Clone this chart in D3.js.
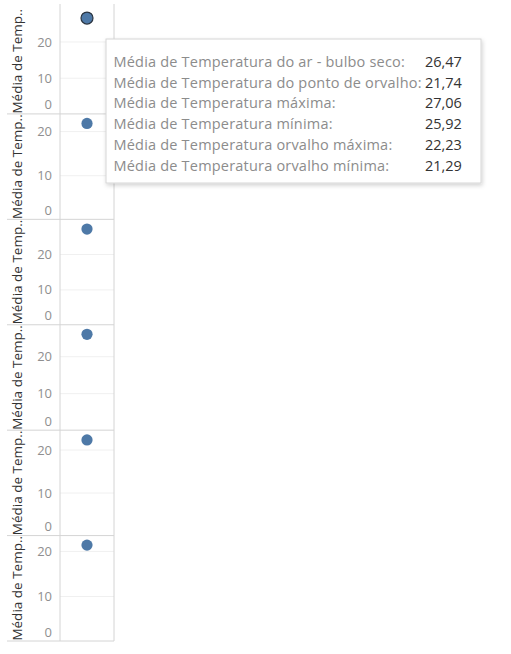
<!DOCTYPE html>
<html>
<head>
<meta charset="utf-8">
<script src="https://cdn.jsdelivr.net/npm/d3@7"></script>
<style>
  body { margin: 0; background: #fff; }
  text { font-family: "Open Sans", sans-serif; }
</style>
</head>
<body>
<div id="chart"></div>
<script>
var medidas = [
    "Média de Temperatura do ar - bulbo seco",
    "Média de Temperatura do ponto de orvalho",
    "Média de Temperatura máxima",
    "Média de Temperatura mínima",
    "Média de Temperatura orvalho máxima",
    "Média de Temperatura orvalho mínima"
]
var valores = [26.47, 21.74, 27.06, 25.92, 22.23, 21.29]
var eixoMax = [29.1, 23.9, 29.8, 28.5, 24.5, 23.4]
var tickValores = [0, 10, 20]
var tituloEixo = "Média de Temp.."
var selecionado = 0   // ponto com o tooltip aberto

var width = 511, height = 654
var axisX = 60, paneR = 114, leftX = 7
var top0 = 8.5, bottom0 = 641

var svg = d3.select("#chart")
    .append("svg")
    .attr("width", width)
    .attr("height", height)

var fmt = d3.formatLocale({ decimal: ",", thousands: ".", grouping: [3], currency: ["", ""] }).format(".2f")

// faixas das linhas
var row = d3.scaleBand()
    .domain(d3.range(medidas.length))
    .range([top0, bottom0])
    .padding(0)

var x = d3.scalePoint()
    .domain(["tudo"])
    .range([axisX, paneR])
    .padding(0.5)

var g = svg.append("g")

medidas.forEach(function (m, i) {
    var t = row(i), b = t + row.bandwidth()
    var y = d3.scaleLinear().domain([0, eixoMax[i]]).range([b, t])
    var p = g.append("g").attr("class", "painel")

    // linhas de grade
    p.append("g")
        .attr("transform", "translate(" + axisX + ",0)")
        .call(d3.axisRight(y).tickValues(tickValores.filter(v => v > 0)).tickSize(paneR - axisX).tickFormat(""))
        .call(s => s.select(".domain").remove())
        .selectAll("line")
        .attr("stroke", "#f0f0f0")

    // rótulos do eixo
    var ax = p.append("g")
        .attr("transform", "translate(" + (axisX - 8) + ",0)")
        .call(d3.axisLeft(y).tickValues(tickValores).tickSize(0).tickPadding(0))
    ax.select(".domain").remove()
    ax.selectAll("text")
        .attr("font-family", "Open Sans, sans-serif")
        .attr("font-size", 13)
        .attr("fill", "#8f8f8f")
        .attr("dy", "0.35em")
        .attr("y", function (v) { return Math.min(y(v), b - 9.5) - y(v) })

    // título do eixo
    p.append("text")
        .attr("transform", "translate(" + 17.5 + "," + (t + b) / 2 + ") rotate(-90)")
        .attr("text-anchor", "middle")
        .attr("dy", "0.35em")
        .attr("font-size", 13.5)
        .attr("fill", "#333")
        .text(tituloEixo)

    // separador
    p.append("line")
        .attr("x1", leftX).attr("x2", paneR)
        .attr("y1", b).attr("y2", b)
        .attr("stroke", "#d4d4d4")

    // ponto
    p.append("circle")
        .attr("cx", x("tudo"))
        .attr("cy", y(valores[i]))
        .attr("r", i == selecionado ? 6 : 5.6)
        .attr("fill", "#4e79a7")
        .attr("stroke", i == selecionado ? "#2a3440" : "none")
        .attr("stroke-width", 1.2)
})

// linhas verticais do eixo e borda direita
svg.append("line")
    .attr("x1", axisX).attr("x2", axisX).attr("y1", 4).attr("y2", bottom0)
    .attr("stroke", "#d4d4d4")
svg.append("line")
    .attr("x1", paneR).attr("x2", paneR).attr("y1", 4).attr("y2", bottom0)
    .attr("stroke", "#d4d4d4")

// tooltip
var defs = svg.append("defs")
var f = defs.append("filter").attr("id", "sombra").attr("x", "-10%").attr("y", "-10%").attr("width", "120%").attr("height", "130%")
f.append("feDropShadow").attr("dx", 1).attr("dy", 2).attr("stdDeviation", 2).attr("flood-color", "#000").attr("flood-opacity", 0.18)

var tip = svg.append("g").attr("transform", "translate(106,39)")
tip.append("rect")
    .attr("width", 375).attr("height", 144)
    .attr("fill", "#fff")
    .attr("stroke", "#d6d6d6")
    .attr("filter", "url(#sombra)")

var linhas = tip.selectAll(".linha")
    .data(medidas)
    .enter()
    .append("g")
    .attr("class", "linha")
    .attr("transform", (d, i) => "translate(0," + (28 + i * 20.7) + ")")

linhas.append("text")
    .attr("x", 7.5)
    .attr("font-size", 14.5)
    .attr("letter-spacing", 0.2)
    .attr("fill", "#8c8c8c")
    .text(d => d + ":")

linhas.append("text")
    .attr("x", 319)
    .attr("font-size", 14.5)
    .attr("fill", "#333")
    .text((d, i) => fmt(valores[i]))
</script>
</body>
</html>
